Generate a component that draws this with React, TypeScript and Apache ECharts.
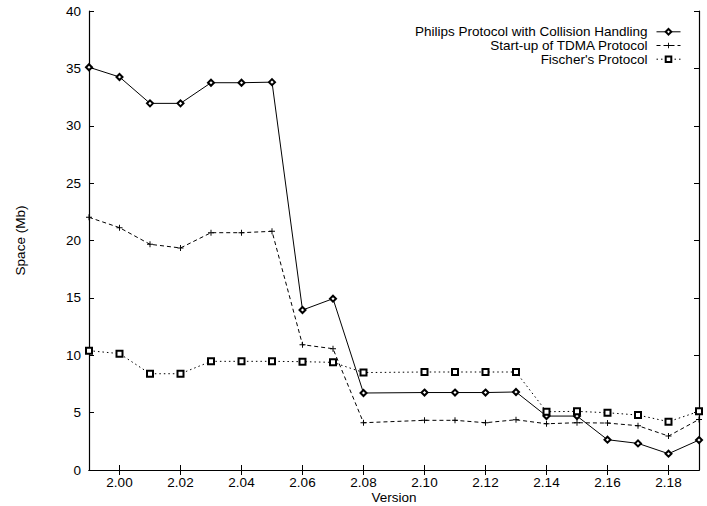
import React, { useEffect, useRef } from "react";
import * as echarts from "echarts";

const versions = [1.99, 2.0, 2.01, 2.02, 2.03, 2.04, 2.05, 2.06, 2.07, 2.08, 2.1, 2.11, 2.12, 2.13, 2.14, 2.15, 2.16, 2.17, 2.18, 2.19];
const philips = [35.1, 34.25, 31.95, 31.95, 33.75, 33.75, 33.8, 13.94, 14.93, 6.71, 6.75, 6.75, 6.75, 6.8, 4.7, 4.7, 2.64, 2.32, 1.42, 2.61];
const tdma = [22.02, 21.12, 19.67, 19.35, 20.68, 20.68, 20.8, 10.92, 10.57, 4.12, 4.33, 4.33, 4.12, 4.38, 4.03, 4.12, 4.09, 3.86, 2.96, 4.41];
const fischer = [10.4, 10.14, 8.39, 8.39, 9.47, 9.47, 9.47, 9.44, 9.38, 8.49, 8.54, 8.54, 8.54, 8.54, 5.08, 5.11, 4.99, 4.79, 4.21, 5.11];
const xTicks = [2.0, 2.02, 2.04, 2.06, 2.08, 2.1, 2.12, 2.14, 2.16, 2.18];
const seriesNames = ["Philips Protocol with Collision Handling", "Start-up of TDMA Protocol", "Fischer's Protocol"];

const PLUS = "path://M-0.16,-1 L0.16,-1 L0.16,-0.16 L1,-0.16 L1,0.16 L0.16,0.16 L0.16,1 L-0.16,1 L-0.16,0.16 L-1,0.16 L-1,-0.16 L-0.16,-0.16 Z";
const FONT = "'Liberation Sans', Arial, Helvetica, sans-serif";
const FS = 13.5;

export default function App() {
  const ref = useRef<HTMLDivElement>(null);
  useEffect(() => {
    if (!ref.current) return;
    const chart = echarts.init(ref.current, undefined, { renderer: "svg" });
    const axisLine = { show: true, lineStyle: { color: "#000", width: 1.2 } };
    const zip = (ys: number[]) => versions.map((v, i) => [v, ys[i]]);
    const legendBase = {
      right: 26,
      orient: "horizontal",
      align: "right",
      itemWidth: 24,
      itemHeight: 7,
      itemGap: 5,
      lineStyle: { width: 1 },
      textStyle: { fontFamily: FONT, fontSize: FS, lineHeight: 12, color: "#000", padding: [0, 4, 0, 0] },
      padding: 0,
    };
    chart.setOption({
      animation: false,
      backgroundColor: "#fff",
      textStyle: { fontFamily: FONT },
      grid: { left: 89, right: 8, top: 11, bottom: 36, containLabel: false, outerBoundsMode: "none" },
      legend: [
        { ...legendBase, top: 24.8, data: [seriesNames[0]], itemStyle: { borderWidth: 0.8 } },
        { ...legendBase, top: 38.5, data: [seriesNames[1]], itemStyle: { color: "#000", borderWidth: 0 } },
        { ...legendBase, top: 52.2, data: [seriesNames[2]], itemStyle: { borderWidth: 0.8 } },
      ],
      xAxis: [
        {
          type: "value",
          min: 1.99,
          max: 2.19,
          position: "bottom",
          name: "Version",
          nameLocation: "middle",
          nameGap: 20,
          nameMoveOverlap: false,
          nameTextStyle: { fontFamily: FONT, fontSize: FS, color: "#000" },
          axisLine,
          splitLine: { show: false },
          axisTick: { show: true, inside: true, length: 5, customValues: xTicks, lineStyle: { color: "#000" } },
          axisLabel: {
            show: true,
            customValues: xTicks,
            margin: 5,
            fontFamily: FONT,
            fontSize: FS,
            color: "#000",
            formatter: (v: number) => v.toFixed(2),
          },
        },
        {
          type: "value",
          min: 1.99,
          max: 2.19,
          position: "top",
          axisLine,
          splitLine: { show: false },
          axisTick: { show: true, inside: true, length: 5, customValues: xTicks, lineStyle: { color: "#000" } },
          axisLabel: { show: false },
        },
      ],
      yAxis: [
        {
          type: "value",
          min: 0,
          max: 40,
          interval: 5,
          position: "left",
          name: "Space (Mb)",
          nameLocation: "middle",
          nameGap: 62,
          nameMoveOverlap: false,
          nameTextStyle: { fontFamily: FONT, fontSize: FS, color: "#000" },
          axisLine,
          splitLine: { show: false },
          axisTick: { show: true, inside: true, length: 5, lineStyle: { color: "#000" } },
          axisLabel: { margin: 8, fontFamily: FONT, fontSize: FS, color: "#000" },
        },
        {
          type: "value",
          min: 0,
          max: 40,
          interval: 5,
          position: "right",
          axisLine,
          splitLine: { show: false },
          axisTick: { show: true, inside: true, length: 5, lineStyle: { color: "#000" } },
          axisLabel: { show: false },
        },
      ],
      series: [
        {
          name: seriesNames[0],
          type: "line",
          data: zip(philips),
          symbol: "emptyDiamond",
          symbolSize: 6,
          lineStyle: { color: "#000", width: 1, type: "solid" },
          itemStyle: { color: "#000", borderColor: "#000", borderWidth: 0.8 },
        },
        {
          name: seriesNames[1],
          type: "line",
          data: zip(tdma),
          symbol: PLUS,
          symbolSize: 6,
          lineStyle: { color: "#000", width: 1, type: [4, 3] },
          itemStyle: { color: "#000", borderWidth: 0 },
        },
        {
          name: seriesNames[2],
          type: "line",
          data: zip(fischer),
          symbol: "emptyRect",
          symbolSize: 6,
          lineStyle: { color: "#000", width: 1, type: [1.5, 3] },
          itemStyle: { color: "#000", borderColor: "#000", borderWidth: 0.8 },
        },
      ],
    });
    return () => chart.dispose();
  }, []);
  return <div ref={ref} style={{ width: 707, height: 506, position: "absolute", left: 0, top: 0 }} />;
}
